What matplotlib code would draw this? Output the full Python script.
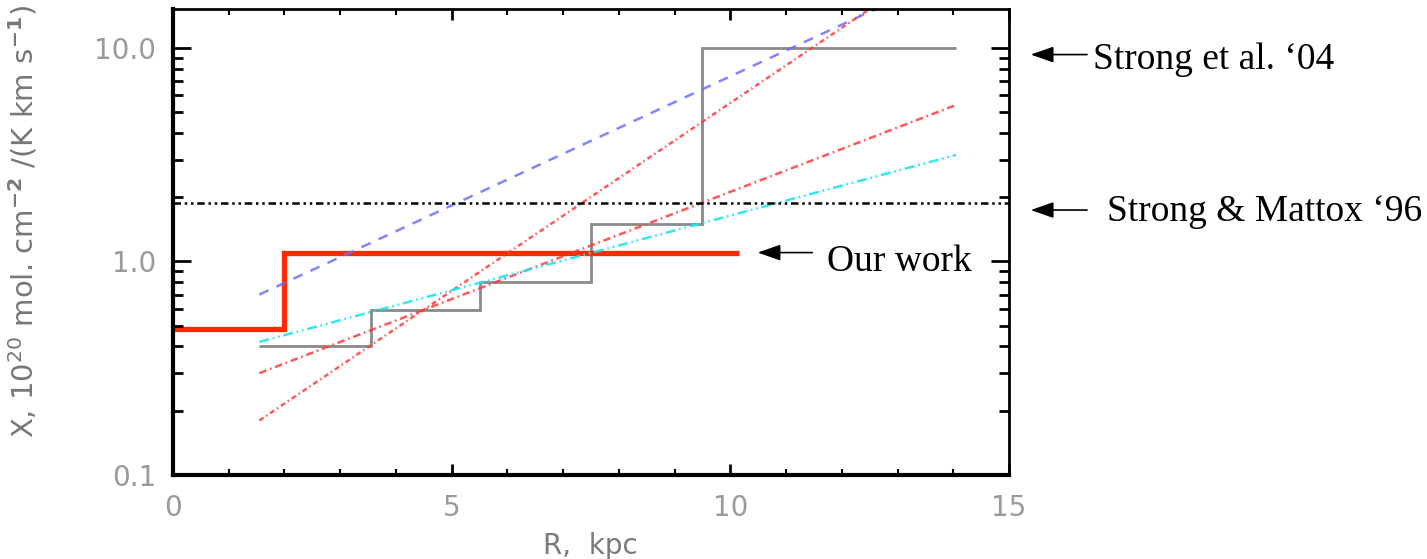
import numpy as np
import matplotlib
matplotlib.use("Agg")
import matplotlib.pyplot as plt

# --- data (R in kpc, X in 1e20 mol cm^-2 /(K km s^-1)) ---
# our work: two-step X profile
ours_edges = [0.0, 2.0, 10.15]
ours_vals = [0.48, 1.10]

# Strong et al. '04 step profile
strong04_edges = [1.55, 3.55, 5.5, 7.5, 9.5, 14.05]
strong04_vals = [0.40, 0.59, 0.80, 1.50, 10.0]

# Strong & Mattox '96 constant value
mattox96_r = [0.0, 15.0]
mattox96_x = [1.88, 1.88]

# gradient models (straight lines in log space)
blue_r = [1.55, 14.0]
blue_x = [0.70, 22.4]
red_steep_r = [1.55, 14.0]
red_steep_x = [0.18, 27.9]
red_flat_r = [1.55, 14.05]
red_flat_x = [0.30, 5.4]
cyan_r = [1.55, 14.05]
cyan_x = [0.42, 3.15]

fig = plt.figure(figsize=(14.27, 5.59), dpi=100)
ax = fig.add_axes([173 / 1427, 1 - 475 / 559, 836 / 1427, 466 / 559])

ax.plot(blue_r, blue_x, color="#6f6fff", lw=1.8, alpha=0.85, ls=(0, (4, 3.5)))
ax.plot(red_steep_r, red_steep_x, color="#ff3b3b", lw=1.8, alpha=0.85,
        ls=(0, (2, 1.3, 0.6, 1.3)))
ax.plot(red_flat_r, red_flat_x, color="#ff3b3b", lw=1.8, alpha=0.85,
        ls=(0, (3, 1.5, 0.7, 1.5)))
ax.plot(cyan_r, cyan_x, color="#1ee6f0", lw=1.8, alpha=0.9,
        ls=(0, (4, 1.5, 0.7, 1.5, 0.7, 1.5)))
ax.plot(mattox96_r, mattox96_x, color="black", lw=1.8,
        ls=(0, (3, 1.5, 1, 1.5, 1, 1.5)))
ax.stairs(strong04_vals, strong04_edges, baseline=None, color="#8a8a8a", lw=2)
ax.stairs(ours_vals, ours_edges, baseline=None, color="#ff2a00", lw=3.8)

ax.set_yscale("log")
ax.set_xlim(0, 15)
ax.set_ylim(0.1, 15.2)
ax.set_xticks([0, 5, 10, 15])
ax.set_xticks(np.arange(0, 16, 1), minor=True)
ax.set_yticks([0.1, 1.0, 10.0])
ax.set_yticklabels(["0.1", "1.0", "10.0"])

lab_col = "#9a9a9a"
ax.tick_params(axis="both", which="both", direction="in", top=True, right=True,
               colors="black", labelcolor=lab_col, labelsize=20)
ax.tick_params(axis="x", which="major", length=8, width=2, pad=14)
ax.tick_params(axis="x", which="minor", length=4, width=1.5)
ax.tick_params(axis="y", which="major", length=13, width=2, pad=12)
ax.tick_params(axis="y", which="minor", length=7, width=2)
for side in ["left", "bottom"]:
    ax.spines[side].set_linewidth(3)
for side in ["top", "right"]:
    ax.spines[side].set_linewidth(2)

ax.set_xlabel("R,  kpc", fontsize=20, color="#7a7a7a")
ax.xaxis.set_label_coords(0.499, -0.122)
ax.set_ylabel(r"X, 10$^{20}$ mol. cm$^{\mathbf{-2}}$ /(K km s$^{\mathbf{-1}}$)",
              fontsize=21, color="#777777")
ax.yaxis.set_label_coords(-0.16, 0.545)

# annotations with arrows
serif = "Liberation Serif"
arrow = dict(arrowstyle="-|>,head_length=1.0,head_width=0.35", color="black",
             lw=1.2, mutation_scale=14)
ax.annotate("", xy=(10.44, 1.10), xytext=(11.52, 1.10), arrowprops=arrow,
            annotation_clip=False)
ax.text(11.74, 0.905, "Our work", family=serif, fontsize=27, va="baseline")

ax.annotate("", xy=(15.34, 9.3), xytext=(16.45, 9.3), arrowprops=arrow,
            annotation_clip=False)
ax.text(16.5, 7.98, "Strong et al. \u201804", family=serif, fontsize=27,
        va="baseline", clip_on=False)

ax.annotate("", xy=(15.34, 1.74), xytext=(16.45, 1.74), arrowprops=arrow,
            annotation_clip=False)
ax.text(16.75, 1.55, "Strong & Mattox \u201896", family=serif, fontsize=27,
        va="baseline", clip_on=False)

fig.savefig("out.png", dpi=100)
